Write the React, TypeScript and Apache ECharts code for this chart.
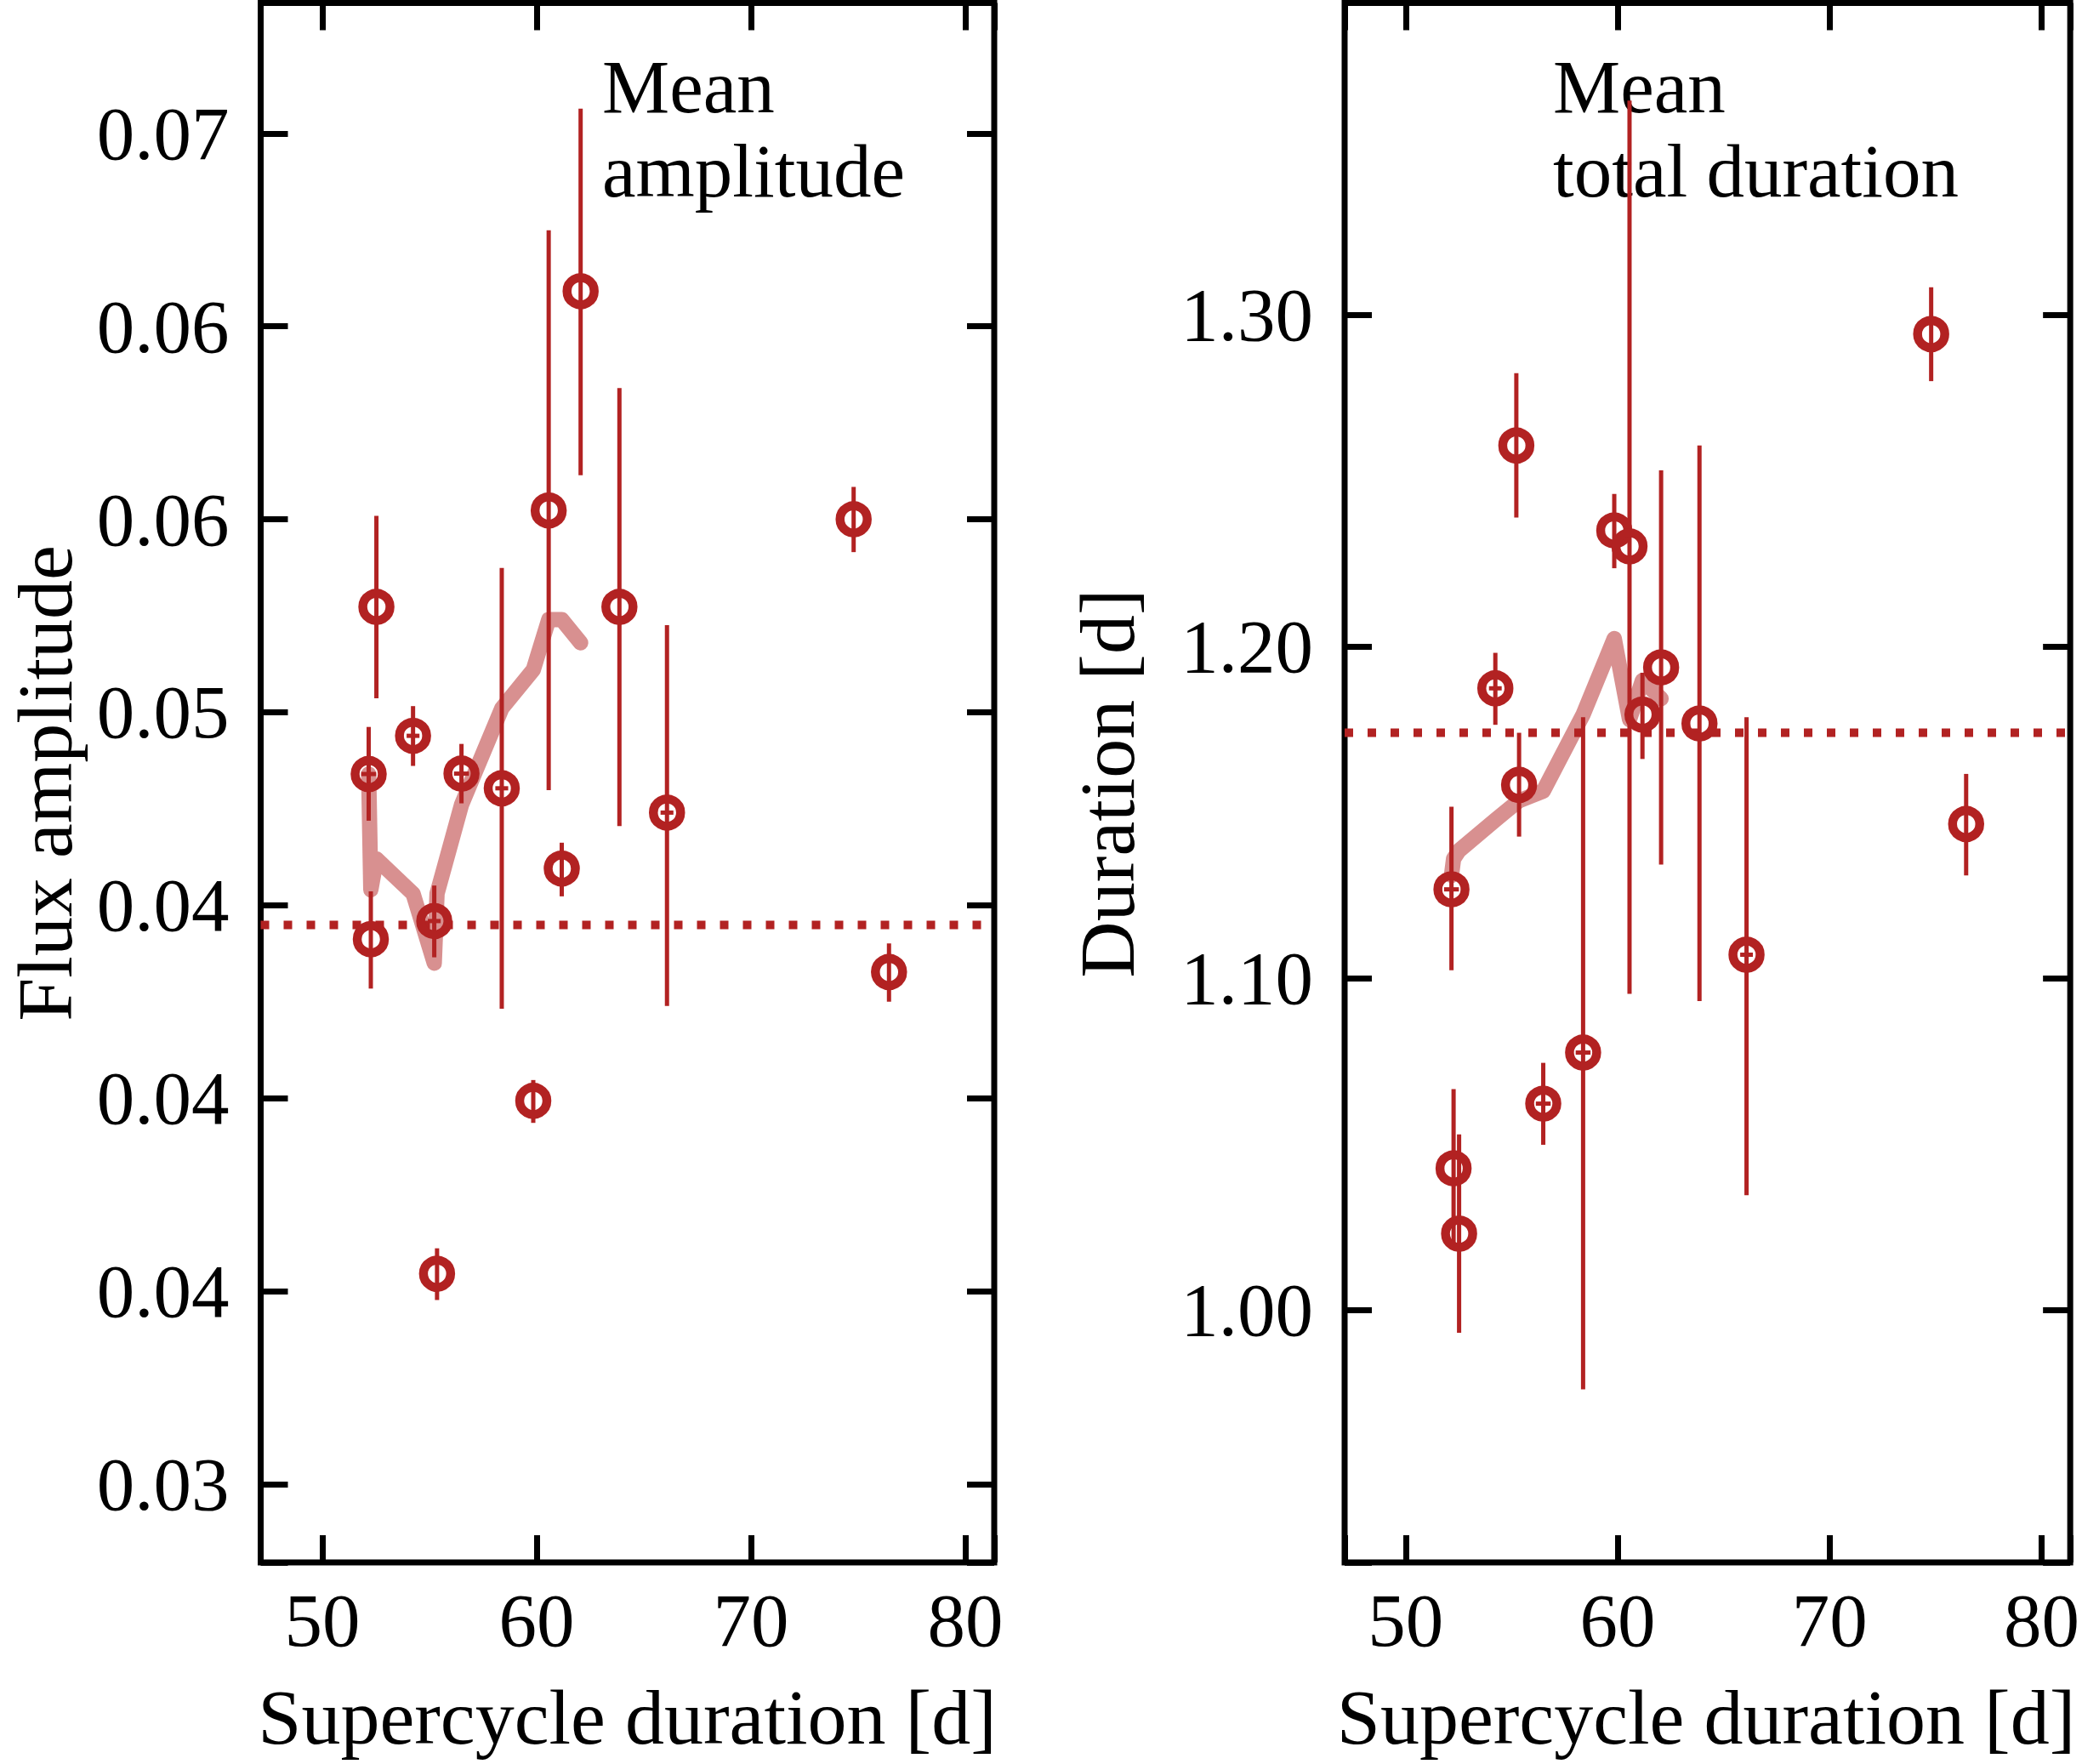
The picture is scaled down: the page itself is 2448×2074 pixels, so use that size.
import React, { useEffect, useRef } from "react";
import * as echarts from "echarts";

// ---------- shared x values (supercycle duration, d) ----------
const supercycle = [52.16, 52.26, 52.52, 54.23, 55.22, 55.35, 56.49, 58.37, 59.84, 60.56, 61.17, 62.05, 63.86, 66.08, 74.79, 76.44];

// ---------- left panel: mean flux amplitude ----------
const ampValue = [0.0484, 0.04412, 0.05273, 0.04939, 0.04459, 0.03545, 0.04841, 0.04803, 0.03993, 0.05523, 0.04595, 0.06091, 0.05273, 0.0474, 0.055, 0.04327];
const ampLow = [0.04719, 0.04284, 0.05036, 0.04861, 0.04365, 0.03477, 0.04764, 0.04232, 0.03936, 0.04798, 0.04523, 0.05614, 0.04705, 0.04239, 0.05415, 0.0425];
const ampHigh = [0.04962, 0.04536, 0.05509, 0.05016, 0.04551, 0.03611, 0.04918, 0.05374, 0.04047, 0.06249, 0.04662, 0.06564, 0.0584, 0.05226, 0.05584, 0.04401];
const ampXErr = [0.35, 0, 0, 0.3, 0.3, 0, 0.35, 0.3, 0, 0, 0, 0, 0, 0.3, 0, 0];
const ampTrendX = [52.16, 52.26, 52.52, 54.23, 55.22, 55.35, 56.49, 58.37, 59.84, 60.56, 61.17, 62.05];
const ampTrendY = [0.0484, 0.0454, 0.0462, 0.0453, 0.0435, 0.0453, 0.0476, 0.0501, 0.0511, 0.0524, 0.0524, 0.0518];
const ampMean = 0.04449;
const ampTicks = [0.03, 0.035, 0.04, 0.045, 0.05, 0.055, 0.06, 0.065];
const ampTickLabels = ["0.03", "0.04", "0.04", "0.04", "0.05", "0.06", "0.06", "0.07"];

// ---------- right panel: mean total duration ----------
const durValue = [1.1268, 1.0427, 1.023, 1.1874, 1.2606, 1.1583, 1.0622, 1.0776, 1.235, 1.2302, 1.1795, 1.1937, 1.1768, 1.1071, 1.2942, 1.1465];
const durLow = [1.1024, 1.0188, 0.9931, 1.1764, 1.2389, 1.1427, 1.0498, 0.9761, 1.2236, 1.0953, 1.1661, 1.1343, 1.0931, 1.0346, 1.28, 1.131];
const durHigh = [1.1517, 1.0666, 1.0529, 1.1981, 1.2824, 1.174, 1.0745, 1.1787, 1.246, 1.3646, 1.1921, 1.2531, 1.2606, 1.1787, 1.3083, 1.1616];
const durXErr = [0.35, 0, 0, 0.3, 0, 0, 0.35, 0.35, 0, 0, 0, 0, 0, 0.3, 0, 0];
const durTrendX = [52.16, 52.26, 52.52, 54.23, 55.22, 55.35, 56.49, 58.37, 59.84, 60.56, 61.17, 62.05];
const durTrendY = [1.131, 1.136, 1.1385, 1.1477, 1.1529, 1.1535, 1.1564, 1.1795, 1.2024, 1.178, 1.1898, 1.1843];
const durMean = 1.174;
const durTicks = [1.0, 1.1, 1.2, 1.3];
const durTickLabels = ["1.00", "1.10", "1.20", "1.30"];

// ---------- x ticks ----------
const xTicks = [50, 60, 70, 80];
const xTickLabels = ["50", "60", "70", "80"];

const RED = "#b22222";
const PINK = "rgba(178,34,34,0.5)";
const FONT = "Liberation Serif";

function lookup(ticks: number[], labels: string[], v: number) {
  for (let i = 0; i < ticks.length; i++) {
    if (Math.abs(ticks[i] - v) < 1e-7 * Math.max(1, Math.abs(v))) return labels[i];
  }
  return "";
}

const renderErr = (params: any, api: any) => {
  const x = api.value(0);
  const lo = api.value(1);
  const hi = api.value(2);
  const xe = api.value(3);
  const y = api.value(4);
  const a = api.coord([x, lo]);
  const b = api.coord([x, hi]);
  const children: any[] = [
    { type: "line", shape: { x1: a[0], y1: a[1], x2: b[0], y2: b[1] }, style: { stroke: RED, lineWidth: 5 } },
  ];
  if (xe > 0) {
    const c = api.coord([x - xe, y]);
    const d = api.coord([x + xe, y]);
    children.push({ type: "line", shape: { x1: c[0], y1: c[1], x2: d[0], y2: d[1] }, style: { stroke: RED, lineWidth: 5 } });
  }
  return { type: "group", children };
};

export default function App() {
  const ref = useRef<HTMLDivElement>(null);
  useEffect(() => {
    if (!ref.current) return;
    const chart = echarts.init(ref.current, undefined, { renderer: "svg" });

    const XMIN = 47.12;
    const XMAX = 81.35;
    const grids = [
      { left: 306.5, top: 3.5, width: 862.5, height: 1833.5 },
      { left: 1581, top: 3.5, width: 859, height: 1833.5 },
    ];
    const yRanges = [
      { min: 0.02797, max: 0.06838, interval: 0.005, split: 8, ticks: ampTicks, labels: ampTickLabels },
      { min: 0.9239, max: 1.394, interval: 0.1, split: 5, ticks: durTicks, labels: durTickLabels },
    ];

    const renderMean = (params: any, api: any) => {
      const cs = params.coordSys;
      const p = api.coord([XMIN, api.value(0)]);
      return {
        type: "line",
        shape: { x1: cs.x, y1: p[1], x2: cs.x + cs.width, y2: p[1] },
        style: { stroke: RED, lineWidth: 10, lineDash: [10, 17], lineCap: "butt" },
      };
    };

    const tickStyle = { show: true, inside: true, length: 32, lineStyle: { color: "#000", width: 7 } };
    const labelBase = { fontFamily: FONT, fontSize: 89, color: "#000" };

    const xAxis: any[] = [];
    const yAxis: any[] = [];
    for (let g = 0; g < 2; g++) {
      for (const pos of ["bottom", "top"]) {
        xAxis.push({
          type: "value",
          gridIndex: g,
          position: pos,
          min: XMIN,
          max: XMAX,
          splitNumber: 4,
          minInterval: 10,
          maxInterval: 10,
          axisLine: { show: false },
          axisTick: tickStyle,
          splitLine: { show: false },
          axisLabel: {
            show: pos === "bottom",
            ...labelBase,
            margin: 68,
            verticalAlign: "middle",
            formatter: (v: number) => lookup(xTicks, xTickLabels, v),
          },
        });
      }
      const yr = yRanges[g];
      for (const pos of ["left", "right"]) {
        yAxis.push({
          type: "value",
          gridIndex: g,
          position: pos,
          min: yr.min,
          max: yr.max,
          splitNumber: yr.split,
          minInterval: yr.interval,
          maxInterval: yr.interval,
          axisLine: { show: false },
          axisTick: tickStyle,
          splitLine: { show: false },
          axisLabel: {
            show: pos === "left",
            ...labelBase,
            margin: 37,
            formatter: (v: number) => lookup(yr.ticks, yr.labels, v),
          },
        });
      }
    }

    const panels = [
      { value: ampValue, low: ampLow, high: ampHigh, xerr: ampXErr, tx: ampTrendX, ty: ampTrendY, mean: ampMean },
      { value: durValue, low: durLow, high: durHigh, xerr: durXErr, tx: durTrendX, ty: durTrendY, mean: durMean },
    ];

    const series: any[] = [];
    panels.forEach((p, g) => {
      const xi = g * 2;
      const yi = g * 2;
      series.push({
        type: "line",
        xAxisIndex: xi,
        yAxisIndex: yi,
        data: p.tx.map((x, i) => [x, p.ty[i]]),
        showSymbol: false,
        symbol: "none",
        silent: true,
        z: 1,
        lineStyle: { color: PINK, width: 18, cap: "round", join: "round" },
      });
      series.push({
        type: "custom",
        xAxisIndex: xi,
        yAxisIndex: yi,
        silent: true,
        z: 2,
        renderItem: renderErr,
        encode: { x: 0, y: [1, 2] },
        data: supercycle.map((x, i) => [x, p.low[i], p.high[i], p.xerr[i], p.value[i]]),
      });
      series.push({
        type: "custom",
        xAxisIndex: xi,
        yAxisIndex: yi,
        silent: true,
        z: 2,
        renderItem: renderMean,
        encode: { y: 0 },
        data: [[p.mean]],
      });
      series.push({
        type: "scatter",
        xAxisIndex: xi,
        yAxisIndex: yi,
        silent: true,
        z: 3,
        symbol: "circle",
        symbolSize: 32,
        itemStyle: { color: "rgba(0,0,0,0)", borderColor: RED, borderWidth: 10.5, opacity: 1 },
        data: supercycle.map((x, i) => [x, p.value[i]]),
      });
    });

    const tstyle = (text: string, size: number, align: string = "center", lh?: number) => ({
      text,
      fill: "#000",
      font: `${size}px "${FONT}"`,
      align,
      verticalAlign: "middle",
      ...(lh ? { lineHeight: lh } : {}),
    });

    chart.setOption({
      animation: false,
      backgroundColor: "#fff",
      grid: grids.map((gr) => ({ ...gr, show: true, borderColor: "#000", borderWidth: 7, backgroundColor: "transparent" })),
      xAxis,
      yAxis,
      series,
      graphic: [
        { type: "text", x: 53, y: 921, rotation: Math.PI / 2, style: tstyle("Flux amplitude", 92, "center", 80) },
        { type: "text", x: 1302, y: 921, rotation: Math.PI / 2, style: tstyle("Duration [d]", 92, "center", 80) },
        { type: "text", x: 737.5, y: 2019, style: tstyle("Supercycle duration [d]", 92, "center", 80) },
        { type: "text", x: 2006, y: 2019, style: tstyle("Supercycle duration [d]", 92, "center", 80) },
        { type: "text", x: 708, y: 102, style: tstyle("Mean", 89, "left") },
        { type: "text", x: 708, y: 201, style: tstyle("amplitude", 89, "left") },
        { type: "text", x: 1826, y: 102, style: tstyle("Mean", 89, "left") },
        { type: "text", x: 1826, y: 201, style: tstyle("total duration", 89, "left") },
      ],
    });
    return () => chart.dispose();
  }, []);

  return (
    <div
      ref={ref}
      style={{ position: "fixed", left: 0, top: 0, width: 2448, height: 2074, background: "#fff" }}
    />
  );
}
